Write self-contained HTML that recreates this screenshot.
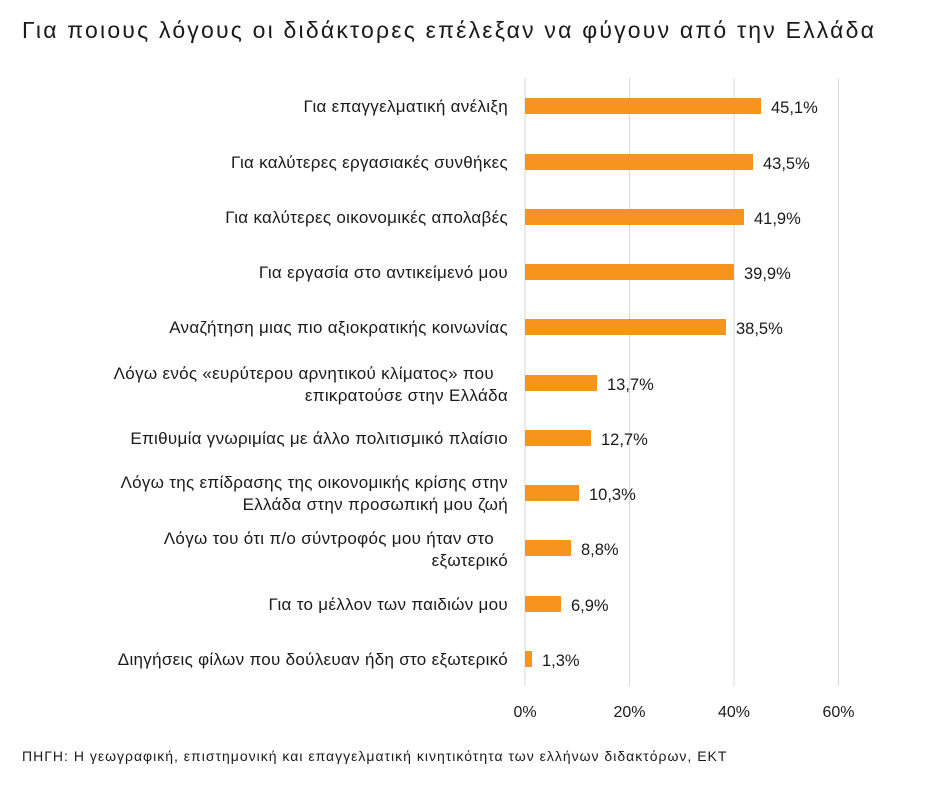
<!DOCTYPE html>
<html><head><meta charset="utf-8"><style>
body{margin:0;background:#fff;}
svg text{font-family:"Liberation Sans",sans-serif;fill:#1a1a1a;}
</style></head><body>
<svg width="952" height="788" xmlns="http://www.w3.org/2000/svg">
<rect width="952" height="788" fill="#fff"/>
<text x="22" y="38" font-size="23" style="letter-spacing:2.2px">Για ποιους λόγους οι διδάκτορες επέλεξαν να φύγουν από την Ελλάδα</text>
<g stroke="#d9d9d9" stroke-width="1">
<line x1="525" y1="78" x2="525" y2="686"/>
<line x1="629.5" y1="78" x2="629.5" y2="686"/>
<line x1="734" y1="78" x2="734" y2="686"/>
<line x1="838.5" y1="78" x2="838.5" y2="686"/>
</g>
<g fill="#F7941D">
<rect x="525" y="98" width="236" height="16"/>
<rect x="525" y="154" width="228" height="16"/>
<rect x="525" y="209" width="219" height="16"/>
<rect x="525" y="264" width="209" height="16"/>
<rect x="525" y="319" width="201" height="16"/>
<rect x="525" y="375" width="72" height="16"/>
<rect x="525" y="430" width="66" height="16"/>
<rect x="525" y="485" width="54" height="16"/>
<rect x="525" y="540" width="46" height="16"/>
<rect x="525" y="596" width="36" height="16"/>
<rect x="525" y="651" width="7" height="16"/>
</g>
<g font-size="16.5">
<text x="771" y="113">45,1%</text>
<text x="763" y="169">43,5%</text>
<text x="754" y="224">41,9%</text>
<text x="744" y="279">39,9%</text>
<text x="736" y="334">38,5%</text>
<text x="607" y="390">13,7%</text>
<text x="601" y="445">12,7%</text>
<text x="589" y="500">10,3%</text>
<text x="581" y="555">8,8%</text>
<text x="571" y="611">6,9%</text>
<text x="542" y="666">1,3%</text>
</g>
<g font-size="17" text-anchor="end" style="letter-spacing:0.3px">
<text x="508" y="112">Για επαγγελματική ανέλιξη</text>
<text x="508" y="168">Για καλύτερες εργασιακές συνθήκες</text>
<text x="508" y="223">Για καλύτερες οικονομικές απολαβές</text>
<text x="508" y="278">Για εργασία στο αντικείμενό μου</text>
<text x="508" y="333">Αναζήτηση μιας πιο αξιοκρατικής κοινωνίας</text>
<text x="494" y="379">Λόγω ενός «ευρύτερου αρνητικού κλίματος» που</text>
<text x="508" y="401">επικρατούσε στην Ελλάδα</text>
<text x="508" y="444">Επιθυμία γνωριμίας με άλλο πολιτισμικό πλαίσιο</text>
<text x="508" y="488">Λόγω της επίδρασης της οικονομικής κρίσης στην</text>
<text x="508" y="510">Ελλάδα στην προσωπική μου ζωή</text>
<text x="494" y="544">Λόγω του ότι π/ο σύντροφός μου ήταν στο</text>
<text x="508" y="566">εξωτερικό</text>
<text x="508" y="610">Για το μέλλον των παιδιών μου</text>
<text x="508" y="665">Διηγήσεις φίλων που δούλευαν ήδη στο εξωτερικό</text>
</g>
<g font-size="16" text-anchor="middle">
<text x="525" y="717">0%</text>
<text x="629.5" y="717">20%</text>
<text x="734" y="717">40%</text>
<text x="838.5" y="717">60%</text>
</g>
<text x="22" y="761" font-size="14" style="letter-spacing:1px">ΠΗΓΗ: Η γεωγραφική, επιστημονική και επαγγελματική κινητικότητα των ελλήνων διδακτόρων, ΕΚΤ</text>
</svg>
</body></html>
